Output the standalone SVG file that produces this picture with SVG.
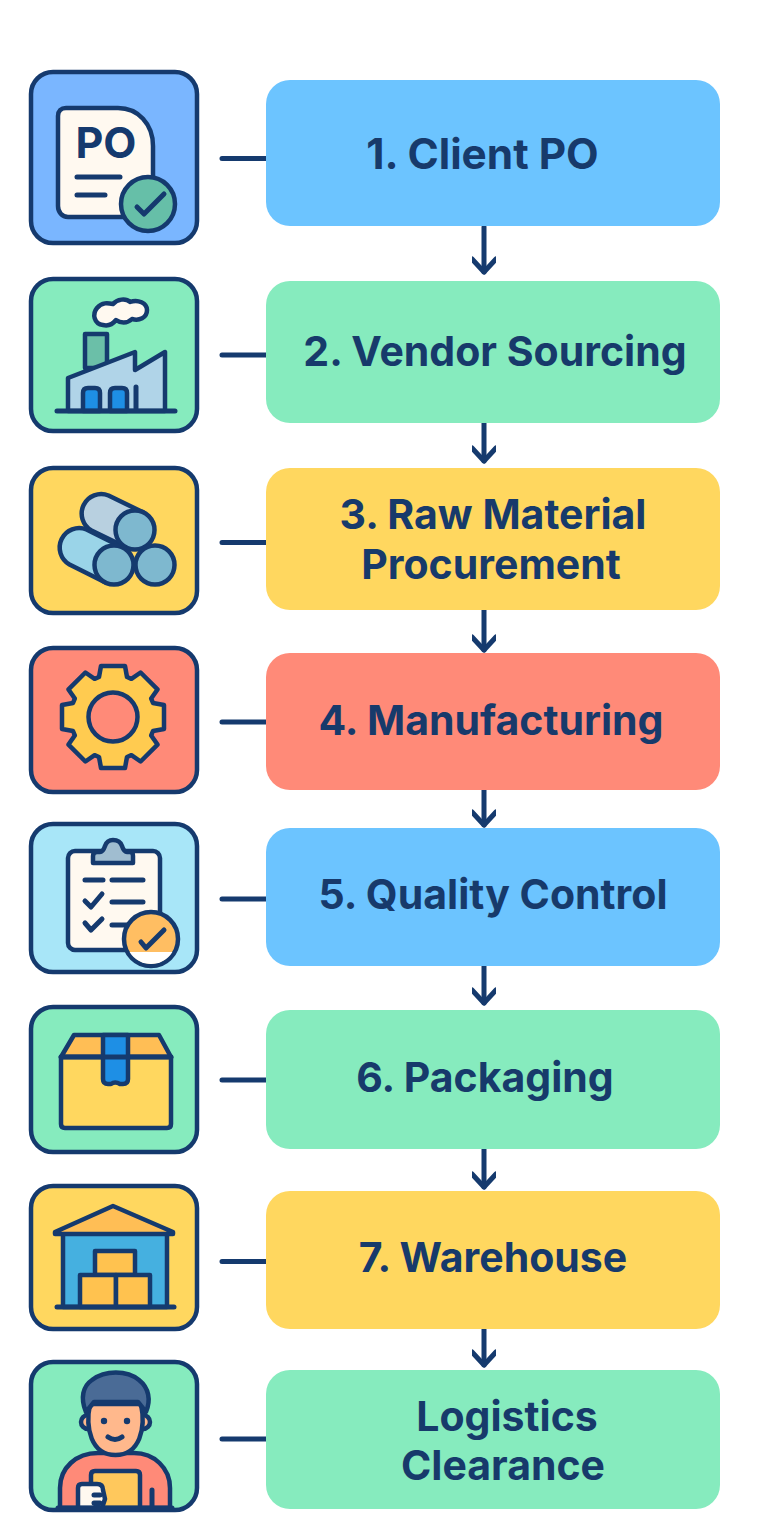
<svg xmlns="http://www.w3.org/2000/svg" width="768" height="1536" viewBox="0 0 768 1536">
<defs>
<marker id="chev" markerUnits="userSpaceOnUse" markerWidth="32" markerHeight="24" refX="24" refY="12" orient="auto" viewBox="0 0 32 24"><path d="M11 0 L24 12 L11 24" fill="none" stroke="#153A6E" stroke-width="5" stroke-linecap="round" stroke-linejoin="round"/></marker>
</defs>
<style>
.box{stroke:none}
.tile{stroke:#153A6E;stroke-width:4.5}
.o{stroke:#153A6E;stroke-width:4.5;stroke-linejoin:round;stroke-linecap:round}
.l{fill:none;stroke:#153A6E;stroke-width:5;stroke-linecap:round;stroke-linejoin:round}
.t{font-family:Inter,"Liberation Sans",sans-serif;font-weight:700;font-size:41px;fill:#173A6B;text-anchor:middle}
.blue{fill:#6CC4FF}.green{fill:#86EBBE}.yellow{fill:#FFD75F}.red{fill:#FF8A78}
.paper{fill:#FFF9F0}
</style>
<rect width="768" height="1536" fill="#FFFFFF"/>
<g id="connectors">
<path class="l" d="M222 158.500H266M222 355H266M222 542.500H266M222 722H266M222 899H266M222 1080H266M222 1261.500H266M222 1439H266"/>
<g fill="none" stroke="#153A6E" stroke-width="5" stroke-linecap="round" marker-end="url(#chev)">
<line x1="484" y1="227" x2="484" y2="272"/>
<line x1="484" y1="423" x2="484" y2="461"/>
<line x1="484" y1="610" x2="484" y2="650"/>
<line x1="484" y1="790" x2="484" y2="825"/>
<line x1="484" y1="966" x2="484" y2="1003"/>
<line x1="484" y1="1149" x2="484" y2="1187"/>
<line x1="484" y1="1329" x2="484" y2="1365"/>
</g>
</g>
<g id="node1">
<rect class="box blue" x="266" y="80" width="454" height="146" rx="24"/>
<text class="t" x="482.500" y="168.500" style="font-size:42.300px">1. Client PO</text>
<rect class="tile" x="31" y="72" width="166" height="171" rx="22" fill="#7AB6FF"/>
<path class="o paper" d="M66 108H118C138 108 153 124 153 146V205C153 212 150 217 144 217H68C62 217 58 212 58 206V116C58 111 61 108 66 108Z"/>
<text x="106" y="158" font-family="Inter,'Liberation Sans',sans-serif" font-weight="700" font-size="43" fill="#153A6E" text-anchor="middle">PO</text>
<path class="l" d="M77 177H120M77 195H105"/>
<circle class="o" cx="148" cy="204" r="27" fill="#66BFA8"/>
<path class="l" d="M137 207L144 214L164 194"/>
</g>
<g id="node2">
<rect class="box green" x="266" y="281" width="454" height="142" rx="24"/>
<text class="t" x="495" y="366">2. Vendor Sourcing</text>
<rect class="tile" x="31" y="279" width="166" height="152" rx="22" fill="#86EBBE"/>
<path class="o paper" d="M103 325C94 324 92 314 97 308C102 302 108 303 113 304C117 299 126 298 130 302C138 299 147 303 147 310C147 318 139 321 132 319C127 324 120 323 116 320C112 325 107 326 103 325Z"/>
<path class="o" d="M85 334H107V368H85Z" fill="#6BBFA8"/>
<path class="o" d="M68 411V378L135 352V370L165 352V411Z" fill="#B0D4E8"/>
<path class="o" d="M83 411V393Q83 388 88 388H95Q100 388 100 393V411Z" fill="#1E8FE5"/>
<path class="o" d="M110 411V393Q110 388 115 388H122Q127 388 127 393V411Z" fill="#1E8FE5"/>
<path class="l" d="M136 387V408M57 411H175"/>
</g>
<g id="node3">
<rect class="box yellow" x="266" y="468" width="454" height="142" rx="24"/>
<text class="t" x="493" y="529">3. Raw Material</text>
<text class="t" x="491" y="579">Procurement</text>
<rect class="tile" x="31" y="468" width="166" height="145" rx="22" fill="#FFD75F"/>
<path class="o" d="M108.500 495.500L143.500 512.500L126.500 547.500L91.500 530.500A19.500 19.500 0 0 1 108.500 495.500Z" fill="#B8D0E0"/>
<path class="o" d="M86.500 529.500L122.500 547.500L105.500 582.500L69.500 564.500A19.500 19.500 0 0 1 86.500 529.500Z" fill="#9AD4E8"/>
<circle class="o" cx="135" cy="530" r="19.500" fill="#7EB8CF"/>
<circle class="o" cx="114" cy="565" r="19.500" fill="#7EB8CF"/>
<circle class="o" cx="155" cy="565" r="19.500" fill="#7EB8CF"/>
</g>
<g id="node4">
<rect class="box red" x="266" y="653" width="454" height="137" rx="24"/>
<text class="t" x="491" y="735">4. Manufacturing</text>
<rect class="tile" x="31" y="648" width="166" height="144" rx="22" fill="#FF8A78"/>
<path class="o" d="M99 677L101 666H125L127 677L131.400 678.800L140.600 672.500L157.500 689.400L151.200 698.600L153 703L164 705V729L153 731L151.200 735.400L157.500 744.600L140.600 761.500L131.400 755.200L127 757L125 768H101L99 757L94.600 755.200L85.400 761.500L68.500 744.600L74.800 735.400L73 731L62 729V705L73 703L74.800 698.600L68.500 689.400L85.400 672.500L94.600 678.800Z" fill="#FFCB50"/>
<circle class="o" cx="113" cy="717" r="24.500" fill="#FF8A78"/>
</g>
<g id="node5">
<rect class="box blue" x="266" y="828" width="454" height="138" rx="24"/>
<text class="t" x="493" y="909">5. Quality Control</text>
<rect class="tile" x="31" y="824" width="166" height="148" rx="22" fill="#A8E6F8"/>
<rect class="o paper" x="68" y="851" width="92" height="99" rx="7"/>
<path class="o" d="M93 863V856Q93 852 97 852H100Q103 852 105 846Q107 840 113 840Q120 840 122 846Q124 852 127 852H130Q133 852 133 856V863Z" fill="#A0BDD0"/>
<path class="l" d="M85 880H103M112 880H143M85 901L91 907L102 894M112 902H143M85 923L91 930L102 919M112 925H130"/>
<circle class="o" cx="151" cy="939" r="27" fill="#FFBE62"/>
<path d="M129.600 952A25 25 0 0 0 172.400 952Z" fill="#FFFFFF"/>
<path class="l" d="M141 942L146 948L164 930"/>
</g>
<g id="node6">
<rect class="box green" x="266" y="1010" width="454" height="139" rx="24"/>
<text class="t" x="485" y="1092">6. Packaging</text>
<rect class="tile" x="31" y="1007" width="166" height="145" rx="22" fill="#86EBBE"/>
<path class="o" d="M61 1057L74 1035H159L171 1057Z" fill="#FFBE55"/>
<path class="o" d="M61 1057H171V1124Q171 1128 167 1128H65Q61 1128 61 1124Z" fill="#FFD75F"/>
<path class="o" d="M103 1035H128V1079Q128 1084 123 1084H120Q115 1081 111 1084H108Q103 1084 103 1079Z" fill="#1E8FE5"/>
<path class="l" d="M61 1057H171"/>
</g>
<g id="node7">
<rect class="box yellow" x="266" y="1191" width="454" height="138" rx="24"/>
<text class="t" x="493" y="1272">7. Warehouse</text>
<rect class="tile" x="31" y="1186" width="166" height="143" rx="22" fill="#FFD75F"/>
<rect class="o" x="63" y="1233" width="104" height="74" fill="#45B0E0"/>
<path class="o" d="M55 1232L113 1206L173 1232V1234H55Z" fill="#FFBE55"/>
<rect class="o" x="95" y="1251" width="40" height="24" fill="#FFC24F"/>
<rect class="o" x="80" y="1275" width="36" height="32" fill="#FFC24F"/>
<rect class="o" x="116" y="1275" width="34" height="32" fill="#FFC24F"/>
<path class="l" d="M57 1307H174"/>
</g>
<g id="node8">
<rect class="box green" x="266" y="1370" width="454" height="139" rx="24"/>
<text class="t" x="507" y="1431">Logistics</text>
<text class="t" x="503" y="1480">Clearance</text>
<rect class="tile" x="31" y="1362" width="166" height="148" rx="22" fill="#86EBBE"/>
<path class="o" d="M60 1508V1488C60 1468 76 1453 98 1453H134C154 1453 170 1468 170 1488V1508Z" fill="#FF8A78"/>
<circle class="o" cx="88" cy="1422" r="7" fill="#FFB88C"/>
<circle class="o" cx="143" cy="1422" r="7" fill="#FFB88C"/>
<path class="o" d="M90 1404H141C146 1428 140 1455 115.500 1455C91 1455 85 1428 90 1404Z" fill="#FFB88C"/>
<path class="o" d="M86 1412C80 1398 83 1386 92 1380C105 1370 127 1370 139 1380C149 1388 151 1400 146 1412L138 1402H94Z" fill="#4A6B96"/>
<circle cx="104" cy="1421" r="3.200" fill="#153A6E"/>
<circle cx="127" cy="1421" r="3.200" fill="#153A6E"/>
<path class="l" d="M108 1437Q115 1442 122 1437"/>
<path class="o" d="M91 1508V1475Q91 1471 95 1471H136Q140 1471 140 1475V1508Z" fill="#FFC85C"/>
<path class="o paper" d="M82 1484H97Q103 1484 103 1490L105 1499L102 1508H78V1488Q78 1484 82 1484Z"/>
<path class="l" d="M152 1490V1508M58 1508H172M94 1495H100M94 1503H100"/>
</g>
</svg>
